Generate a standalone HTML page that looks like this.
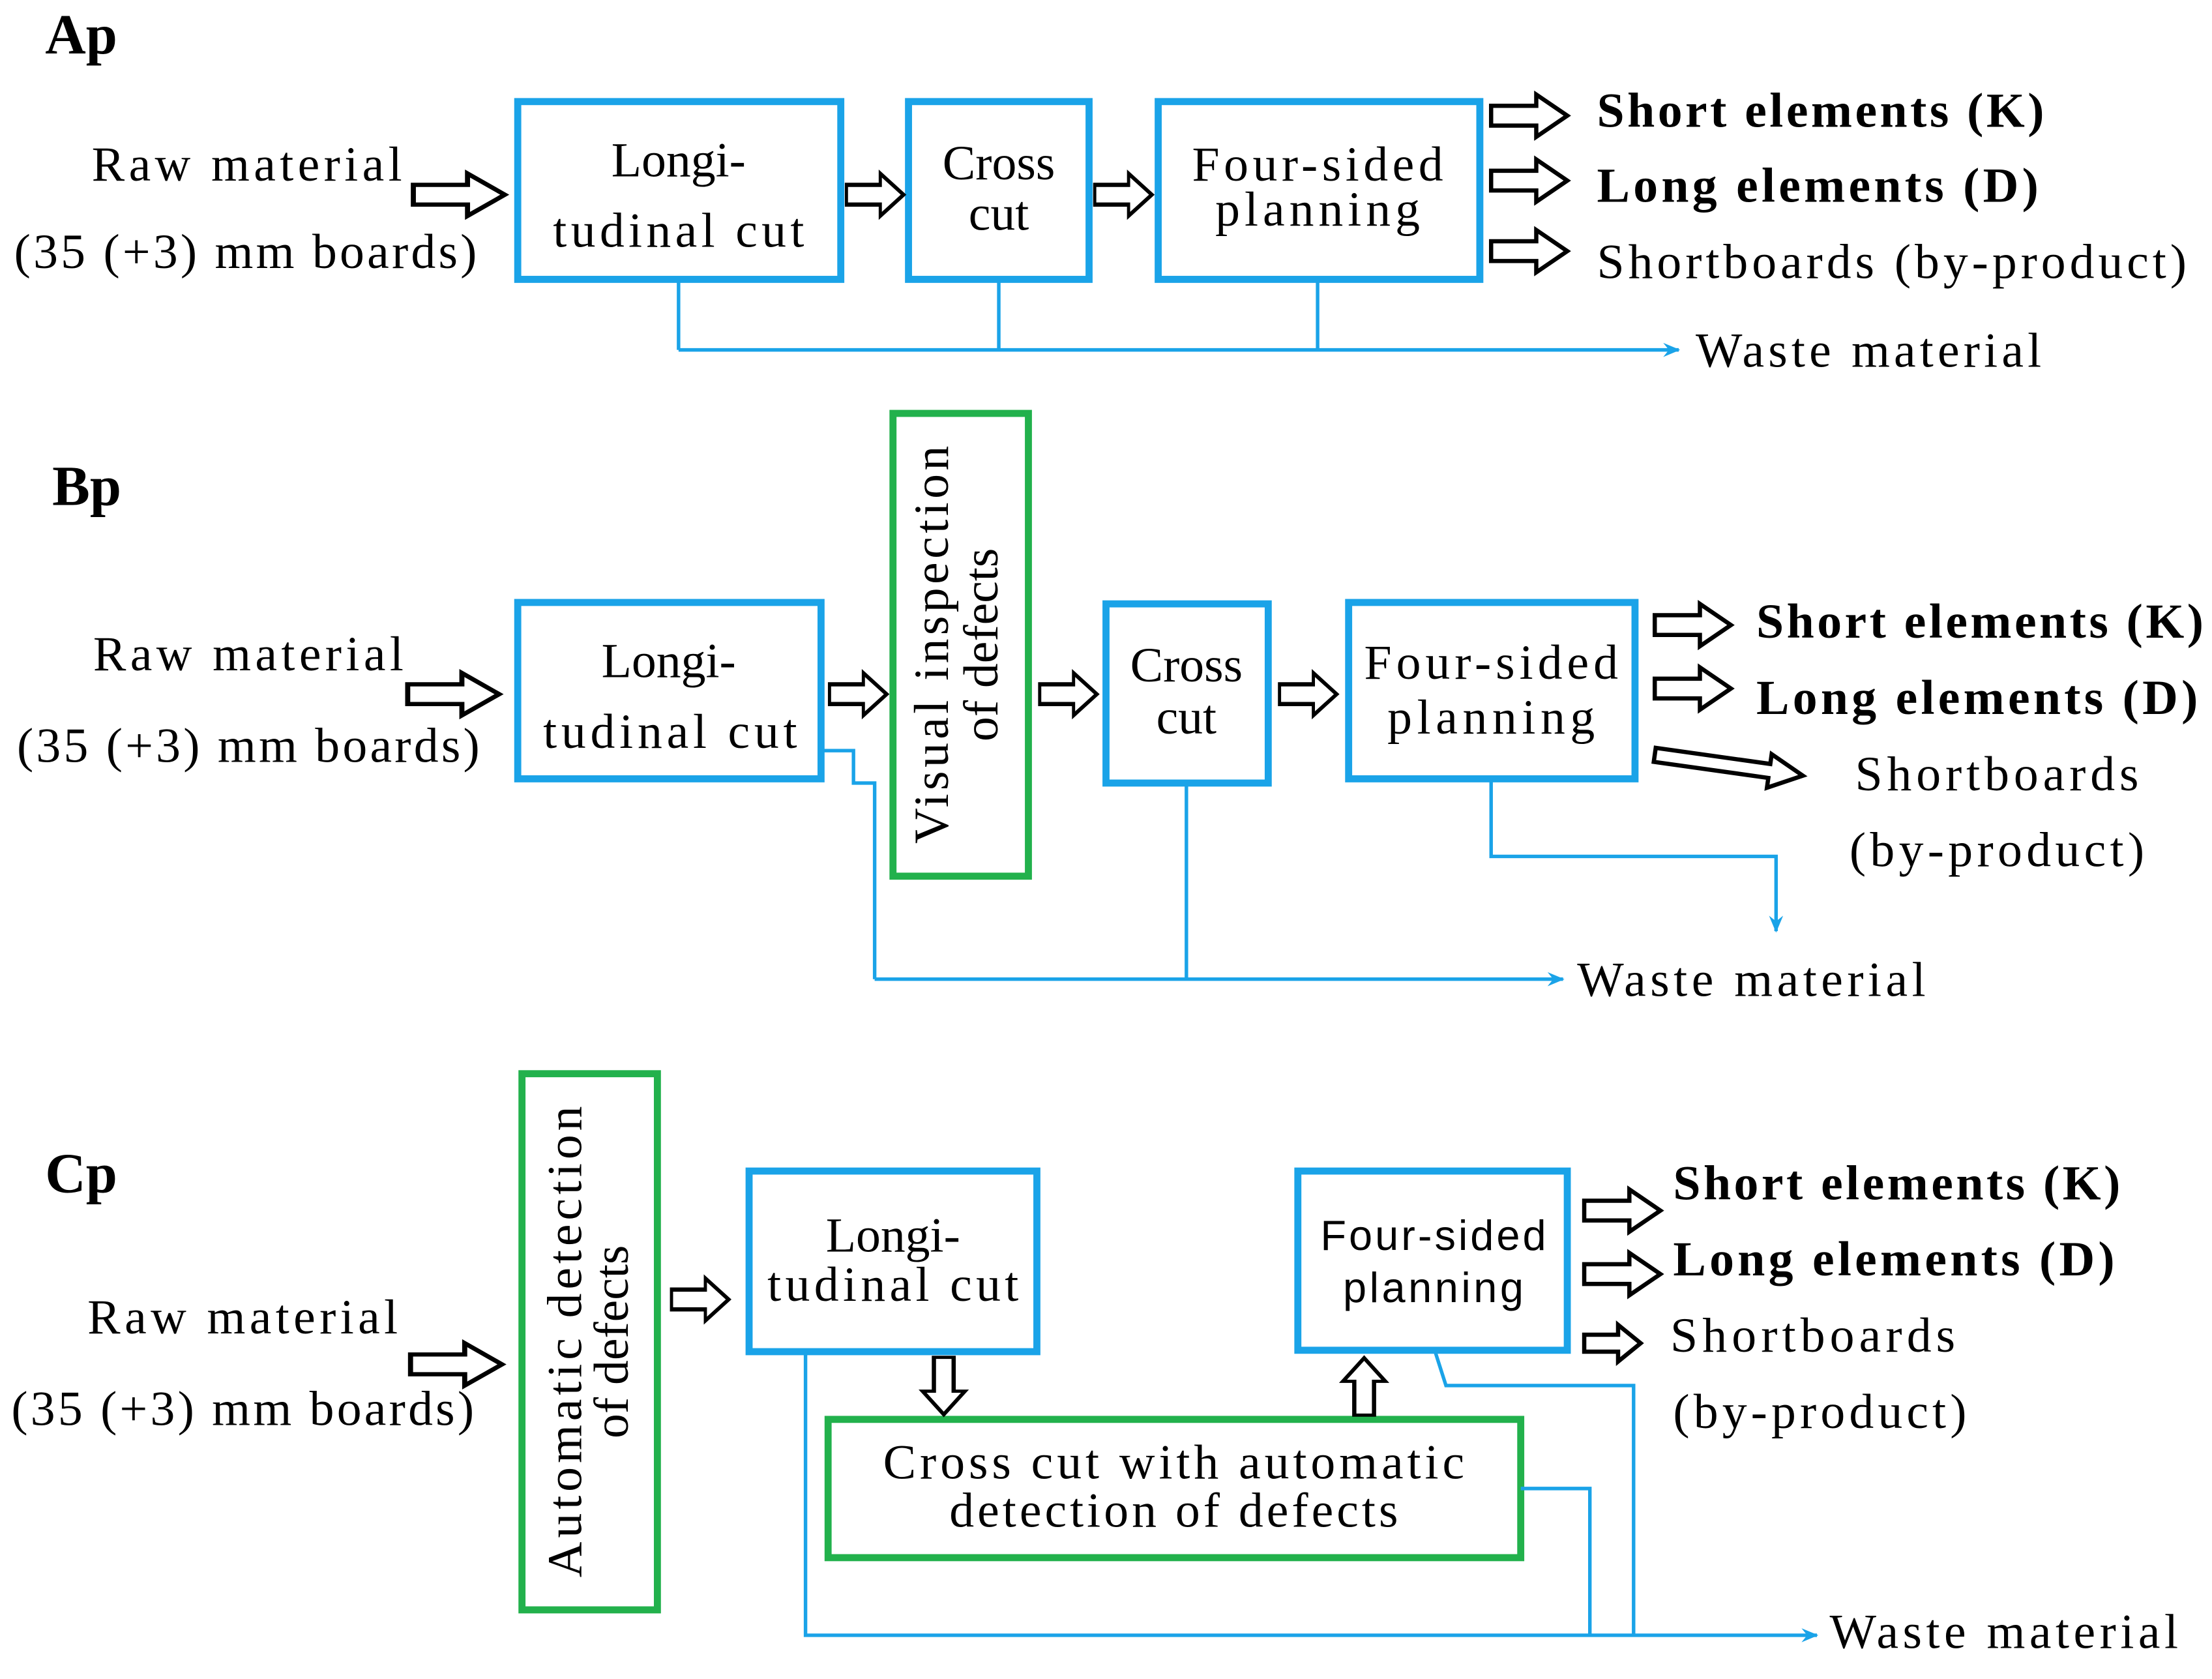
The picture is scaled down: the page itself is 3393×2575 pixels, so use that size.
<!DOCTYPE html>
<html><head><meta charset="utf-8"><style>html,body{margin:0;padding:0;background:#fff}svg{display:block}</style></head><body>
<svg width="3393" height="2575" viewBox="0 0 1568 1190" xmlns="http://www.w3.org/2000/svg" font-family="Liberation Serif, serif" font-size="35">
<defs>
<g id="arr"><path d="M0,-7 H32 V-15 L54,0 L32,15 V7 H0 Z" fill="#fff" stroke="#000" stroke-width="3"/></g>
<g id="arrS"><path d="M0,-6 H24 V-13 L40,0 L24,13 V6 H0 Z" fill="#fff" stroke="#000" stroke-width="3"/></g>
<marker id="bh" markerWidth="12" markerHeight="10" refX="11" refY="5" orient="auto" markerUnits="userSpaceOnUse"><path d="M0,0 L12,5 L0,10 L4,5 Z" fill="#1aa3e8"/></marker>
</defs>
<g fill="none" stroke="#1aa3e8" stroke-width="5">
<rect x="367" y="72" width="229" height="126"/><rect x="644" y="72" width="128" height="126"/><rect x="821" y="72" width="228" height="126"/>
<rect x="367" y="427" width="215" height="125"/><rect x="784" y="428" width="115" height="127"/><rect x="956" y="427" width="203" height="125"/>
<rect x="531" y="830" width="204" height="128"/><rect x="920" y="830" width="191" height="127"/>
</g>
<g fill="none" stroke="#22b14c" stroke-width="5">
<rect x="633" y="293" width="96" height="328"/><rect x="370" y="761" width="96" height="380"/><rect x="587" y="1006" width="491" height="98"/>
</g>
<g fill="none" stroke="#1aa3e8" stroke-width="2.5">
<path d="M481,198 V248 M708,198 V248 M934,198 V248"/><path d="M481,248 H1190" marker-end="url(#bh)"/>
<path d="M584,532 H605 V555 H620 V694 M841,555 V694"/><path d="M620,694 H1108" marker-end="url(#bh)"/>
<path d="M1057,552 V607 H1259 V660" marker-end="url(#bh)"/>
<path d="M571,958 V1159 H1288" marker-end="url(#bh)"/>
<path d="M1078,1055 H1127 V1158 M1017,957 L1025,982 H1158 V1158"/>
</g>
<g transform="translate(293,138) scale(1.2,1)"><use href="#arr"/></g>
<g transform="translate(600,138) scale(0.75,1)"><use href="#arr"/></g>
<g transform="translate(776,138) scale(0.75,1)"><use href="#arr"/></g>
<g transform="translate(1057,82)"><use href="#arr"/></g>
<g transform="translate(1057,128)"><use href="#arr"/></g>
<g transform="translate(1057,178)"><use href="#arr"/></g>
<g transform="translate(289,492) scale(1.2,1)"><use href="#arr"/></g>
<g transform="translate(588,492) scale(0.75,1)"><use href="#arr"/></g>
<g transform="translate(737,492) scale(0.75,1)"><use href="#arr"/></g>
<g transform="translate(907,492) scale(0.75,1)"><use href="#arr"/></g>
<g transform="translate(1173,443)"><use href="#arr"/></g>
<g transform="translate(1173,488)"><use href="#arr"/></g>
<g transform="translate(1173,535) rotate(8)"><path d="M0,-5 H82 V-12 L106,0 L82,12 V5 H0 Z" fill="#fff" stroke="#000" stroke-width="3"/></g>
<g transform="translate(291,967) scale(1.2,1)"><use href="#arr"/></g>
<g transform="translate(476,921) scale(0.75,1)"><use href="#arr"/></g>
<g transform="translate(669,962) rotate(90) scale(0.75,1)"><use href="#arr"/></g>
<g transform="translate(967,1003) rotate(-90) scale(0.75,1)"><use href="#arr"/></g>
<g transform="translate(1123,858)"><use href="#arr"/></g>
<g transform="translate(1123,903)"><use href="#arr"/></g>
<g transform="translate(1123,952)"><use href="#arrS"/></g>
<g font-weight="bold" font-size="40"><text x="32" y="38">Ap</text><text x="37" y="358">Bp</text><text x="32" y="845">Cp</text></g>
<g>
<text x="65" y="128" textLength="220">Raw material</text><text x="10" y="190" textLength="328">(35 (+3) mm boards)</text>
<text x="481" y="125" text-anchor="middle">Longi-</text><text x="481" y="175" text-anchor="middle" textLength="178">tudinal cut</text>
<text x="708" y="127" text-anchor="middle">Cross</text><text x="708" y="163" text-anchor="middle">cut</text>
<text x="934" y="128" text-anchor="middle" textLength="178">Four-sided</text><text x="934" y="160" text-anchor="middle" textLength="145">planning</text>
<text x="1132" y="90" font-weight="bold" textLength="317">Short elements (K)</text>
<text x="1132" y="143" font-weight="bold" textLength="313">Long elements (D)</text>
<text x="1132" y="197" textLength="418">Shortboards (by-product)</text>
<text x="1202" y="260" textLength="245">Waste material</text>

<text x="66" y="475" textLength="220">Raw material</text><text x="12" y="540" textLength="328">(35 (+3) mm boards)</text>
<text x="474" y="480" text-anchor="middle">Longi-</text><text x="475" y="530" text-anchor="middle" textLength="180">tudinal cut</text>
<text transform="translate(672,457) rotate(-90)" text-anchor="middle" textLength="282">Visual inspection</text>
<text transform="translate(707,457) rotate(-90)" text-anchor="middle">of defects</text>
<text x="841" y="483" text-anchor="middle">Cross</text><text x="841" y="520" text-anchor="middle">cut</text>
<text x="1057" y="481" text-anchor="middle" textLength="180">Four-sided</text><text x="1057" y="520" text-anchor="middle" textLength="147">planning</text>
<text x="1245" y="452" font-weight="bold" textLength="317">Short elements (K)</text>
<text x="1245" y="506" font-weight="bold" textLength="313">Long elements (D)</text>
<text x="1315" y="560" textLength="201">Shortboards</text><text x="1311" y="614" textLength="209">(by-product)</text>
<text x="1118" y="706" textLength="247">Waste material</text>

<text x="62" y="945" textLength="220">Raw material</text><text x="8" y="1010" textLength="328">(35 (+3) mm boards)</text>
<text transform="translate(412,951) rotate(-90)" text-anchor="middle" textLength="334">Automatic detection</text>
<text transform="translate(445,951) rotate(-90)" text-anchor="middle">of defects</text>
<text x="633" y="887" text-anchor="middle">Longi-</text><text x="633" y="922" text-anchor="middle" textLength="178">tudinal cut</text>
<text x="832" y="1048" text-anchor="middle" textLength="412">Cross cut with automatic</text>
<text x="832" y="1082" text-anchor="middle" textLength="318">detection of defects</text>
<text x="1016" y="886" text-anchor="middle" font-family="Liberation Sans, sans-serif" font-size="30" textLength="160">Four-sided</text>
<text x="1016" y="923" text-anchor="middle" font-family="Liberation Sans, sans-serif" font-size="30" textLength="128">planning</text>
<text x="1186" y="850" font-weight="bold" textLength="317">Short elements (K)</text>
<text x="1186" y="904" font-weight="bold" textLength="313">Long elements (D)</text>
<text x="1184" y="958" textLength="202">Shortboards</text><text x="1186" y="1012" textLength="208">(by-product)</text>
<text x="1297" y="1168" textLength="247">Waste material</text>
</g>
</svg>
</body></html>
